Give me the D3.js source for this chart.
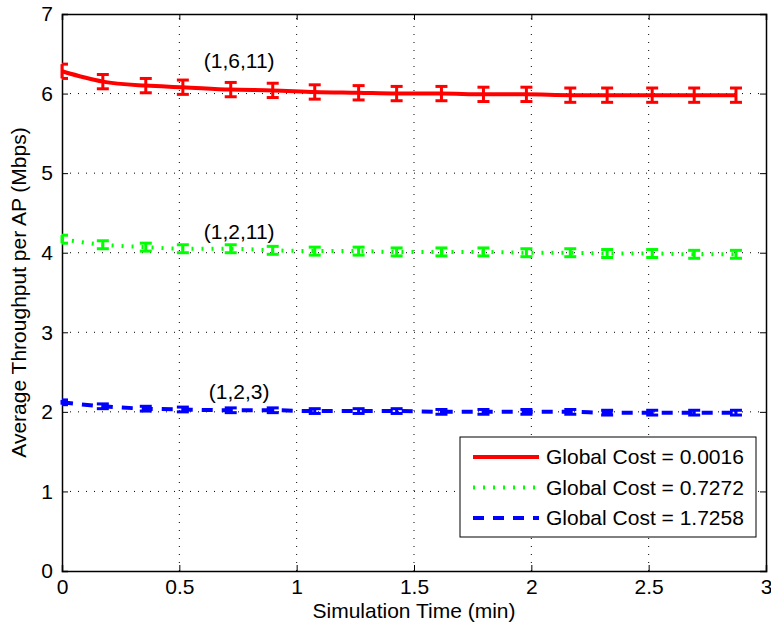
<!DOCTYPE html>
<html lang="en">
<head>
<meta charset="UTF-8">
<title>Average Throughput per AP</title>
<script src="https://d3js.org/d3.v7.min.js"></script>
<style>
 body { margin: 0; font-family: Arial, "Liberation Sans", sans-serif; background: #fff; }
 text { font-family: Arial, "Liberation Sans", sans-serif; }
</style>
</head>
<body>
<div id="chart"></div>
<script>
const width = 771, height = 632;
const margin = { top: 14, right: 4, bottom: 61, left: 62 };

// sample times (min)
const times = [0, 0.174, 0.357, 0.515, 0.719, 0.898, 1.077, 1.264, 1.426, 1.617, 1.796, 1.979, 2.166, 2.323, 2.515, 2.694, 2.872];
const redVals = [6.28, 6.15, 6.10, 6.08, 6.05, 6.04, 6.02, 6.01, 6.00, 6.00, 5.99, 5.99, 5.98, 5.98, 5.98, 5.98, 5.98];
const greenVals = [4.17, 4.10, 4.07, 4.05, 4.05, 4.03, 4.02, 4.02, 4.01, 4.01, 4.01, 4.00, 4.00, 3.99, 3.99, 3.98, 3.98];
const blueVals = [2.12, 2.07, 2.04, 2.03, 2.02, 2.02, 2.01, 2.01, 2.01, 2.00, 2.00, 2.00, 2.00, 1.99, 1.99, 1.99, 1.99];
const errs = [0.09, 0.05, 0.03];
const legendLabels = ["Global Cost = 0.0016", "Global Cost = 0.7272", "Global Cost = 1.7258"];
const curveLabels = ["(1,6,11)", "(1,2,11)", "(1,2,3)"];
const xTicks = [0, 0.5, 1, 1.5, 2, 2.5, 3];
const yTicks = [0, 1, 2, 3, 4, 5, 6, 7];

const series = [
  { vals: redVals, color: "#ff0000", dash: null, err: errs[0], label: curveLabels[0], ly: 6.32 },
  { vals: greenVals, color: "#00ff00", dash: "2,8", err: errs[1], label: curveLabels[1], ly: 4.17 },
  { vals: blueVals, color: "#0000ff", dash: "11,9", err: errs[2], label: curveLabels[2], ly: 2.16 }
];

const svg = d3.select("#chart").append("svg")
  .attr("width", width).attr("height", height);

const x = d3.scaleLinear().domain([0, 3]).range([margin.left, width - margin.right - 1]);
const y = d3.scaleLinear().domain([0, 7]).range([height - margin.bottom, margin.top]);

// grid
svg.append("g").selectAll("line").data(xTicks.slice(1, -1)).join("line")
  .attr("x1", d => x(d)).attr("x2", d => x(d))
  .attr("y1", y(0)).attr("y2", y(7))
  .attr("stroke", "#000").attr("stroke-width", 1).attr("stroke-dasharray", "1,7");
svg.append("g").selectAll("line").data(yTicks.slice(1, -1)).join("line")
  .attr("x1", x(0)).attr("x2", x(3))
  .attr("y1", d => y(d)).attr("y2", d => y(d))
  .attr("stroke", "#000").attr("stroke-width", 1).attr("stroke-dasharray", "1,7");

// axes with inward ticks
const fs = "21px";
const gx = svg.append("g").attr("transform", `translate(0,${y(0)})`)
  .call(d3.axisBottom(x).tickValues(xTicks).tickSize(-6).tickPadding(8).tickFormat(d3.format("")));
const gxt = svg.append("g").attr("transform", `translate(0,${y(7)})`)
  .call(d3.axisTop(x).tickValues(xTicks).tickSize(-6).tickFormat(""));
const gy = svg.append("g").attr("transform", `translate(${x(0)},0)`)
  .call(d3.axisLeft(y).tickValues(yTicks).tickSize(-6).tickPadding(9).tickFormat(d3.format("d")));
const gyr = svg.append("g").attr("transform", `translate(${x(3)},0)`)
  .call(d3.axisRight(y).tickValues(yTicks).tickSize(-6).tickFormat(""));
[gx, gxt, gy, gyr].forEach(g => {
  g.attr("font-size", fs).attr("font-family", "Arial, 'Liberation Sans', sans-serif");
  g.select(".domain").attr("stroke", "#000").attr("stroke-width", 1.5);
  g.selectAll(".tick line").attr("stroke", "#000");
  g.selectAll("text").attr("fill", "#000");
});

// lines and error bars
const line = d3.line().x((d, i) => x(times[i])).y(d => y(d)).curve(d3.curveMonotoneX);
series.forEach(s => {
  svg.append("path").datum(s.vals)
    .attr("d", line)
    .attr("fill", "none").attr("stroke", s.color).attr("stroke-width", 4)
    .attr("stroke-dasharray", s.dash);
  const g = svg.append("g").attr("stroke", s.color).attr("stroke-width", 3);
  s.vals.forEach((v, i) => {
    const cx = x(times[i]);
    const y1 = y(v + s.err), y2 = y(v - s.err);
    const left = i === 0 ? 0 : 6;
    g.append("line").attr("x1", cx).attr("x2", cx).attr("y1", y1).attr("y2", y2);
    g.append("line").attr("x1", cx - left).attr("x2", cx + 6).attr("y1", y1).attr("y2", y1);
    g.append("line").attr("x1", cx - left).attr("x2", cx + 6).attr("y1", y2).attr("y2", y2);
  });
  svg.append("text").attr("x", x(0.755)).attr("y", y(s.ly))
    .attr("text-anchor", "middle").attr("font-size", fs).attr("fill", "#000")
    .text(s.label);
});

// legend
const lg = svg.append("g").attr("transform", "translate(460,437)");
lg.append("rect").attr("width", 296).attr("height", 100)
  .attr("fill", "#fff").attr("stroke", "#000").attr("stroke-width", 1);
series.forEach((s, i) => {
  const yy = 20 + i * 30.5;
  lg.append("line").attr("x1", 13).attr("x2", 79).attr("y1", yy).attr("y2", yy)
    .attr("stroke", s.color).attr("stroke-width", 4).attr("stroke-dasharray", s.dash);
  lg.append("text").attr("x", 86).attr("y", yy + 7).attr("font-size", fs).attr("fill", "#000")
    .text(legendLabels[i]);
});

// axis titles
svg.append("text").attr("x", (x(0) + x(3)) / 2).attr("y", 618)
  .attr("text-anchor", "middle").attr("font-size", fs).text("Simulation Time (min)");
svg.append("text").attr("transform", `translate(26,${(y(0) + y(7)) / 2}) rotate(-90)`)
  .attr("text-anchor", "middle").attr("font-size", fs).text("Average Throughput per AP (Mbps)");
</script>
</body>
</html>
